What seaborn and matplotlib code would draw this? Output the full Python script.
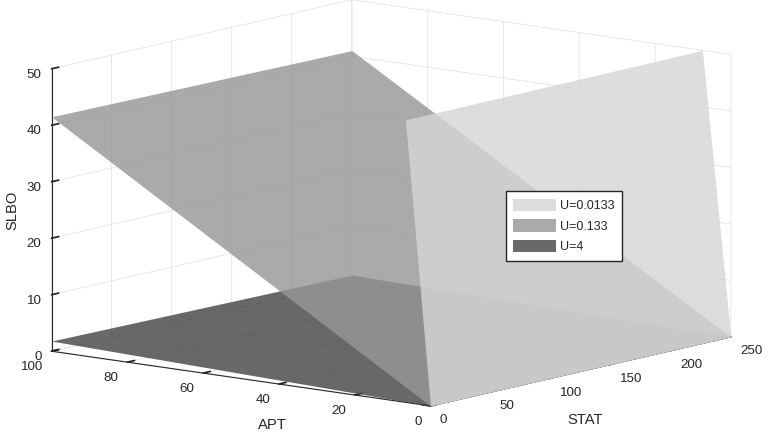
import numpy as np
import matplotlib
matplotlib.use("Agg")
import matplotlib.pyplot as plt
from matplotlib.patches import Patch
import seaborn as sns

# grid corners: APT along rows, STAT along columns
apt = [0, 100]
stat = [0, 250]
slbo_u4 = [[0.0, 0.0], [1.8, 1.25]]
slbo_u0133 = [[0.0, 0.0], [41.5, 41.0]]
# U=0.0133 climbs so steeply it hits the top of the box close to APT=0
apt_u00133 = [[0.0, 0.0], [6.6, 7.5]]
slbo_u00133 = [[0.0, 0.0], [50.0, 50.0]]

labels = ['U=0.0133', 'U=0.133', 'U=4']
grays = ['#d6d6d6', '#979797', '#474747']
face_alpha = 0.82

apt_ticks = [0, 20, 40, 60, 80, 100]
stat_ticks = [0, 50, 100, 150, 200, 250]
slbo_ticks = [0, 10, 20, 30, 40, 50]

sns.set_theme(style='white', rc={'grid.color': '#e4e4e4', 'grid.linewidth': 0.6})
plt.rcParams['font.family'] = ['Liberation Sans', 'DejaVu Sans']

fig = plt.figure(figsize=(7.68, 4.36), dpi=100)
# big square axes so the surfaces are never clipped by the axes box
side = 900
cx, cy = 379, 215
ax = fig.add_axes([(cx - side / 2) / 768, (436 - cy - side / 2) / 436, side / 768, side / 436],
                  projection='3d', computed_zorder=False)

S, A = np.meshgrid(stat, apt)
ax.plot_surface(S, A, np.array(slbo_u4), color=grays[2], alpha=face_alpha,
                shade=False, linewidth=0, antialiased=True, zorder=1)
ax.plot_surface(S, A, np.array(slbo_u0133), color=grays[1], alpha=face_alpha,
                shade=False, linewidth=0, antialiased=True, zorder=2)
ax.plot_surface(S, np.array(apt_u00133), np.array(slbo_u00133), color=grays[0], alpha=face_alpha,
                shade=False, linewidth=0, antialiased=True, zorder=3)

ax.set_proj_type('ortho')
ax.view_init(elev=10.5, azim=-141.6)
ax.set_box_aspect((1, 1, 0.594), zoom=1.44 * 500 / side)
ax.set_xlim(0, 250, view_margin=0)
ax.set_ylim(0, 100, view_margin=0)
ax.set_zlim(0, 50, view_margin=0)
ax.set_xticks(stat_ticks)
ax.set_yticks(apt_ticks)
ax.set_zticks(slbo_ticks)
ax.tick_params(labelsize=9.6, colors='#262626')
ax.tick_params(axis='x', pad=0.3)
ax.tick_params(axis='y', pad=1.8)
ax.tick_params(axis='z', pad=-3)
for t in ax.get_xticklabels():
    t.set_ha('left')
for t in ax.get_yticklabels():
    t.set_ha('right')
for t in ax.get_zticklabels():
    t.set_ha('right')

for axis in (ax.xaxis, ax.yaxis, ax.zaxis):
    axis.set_pane_color((1, 1, 1, 0))
    axis.pane.set_edgecolor('#e4e4e4')
    axis.line.set_color('#262626')
    axis.line.set_linewidth(0.8)
    axis._axinfo['tick']['inward_factor'] = 0.0
    axis._axinfo['tick']['outward_factor'] = 0.3
ax.grid(True)

# axis titles placed where the reference has them
ax.text2D(585 / 768, 1 - 420 / 436, 'STAT', transform=fig.transFigure,
          fontsize=10.6, color='#262626', ha='center', va='center')
ax.text2D(272 / 768, 1 - 425 / 436, 'APT', transform=fig.transFigure,
          fontsize=10.6, color='#262626', ha='center', va='center')
ax.text2D(12 / 768, 1 - 210 / 436, 'SLBO', transform=fig.transFigure,
          fontsize=10.6, color='#262626', ha='center', va='center', rotation=90)

handles = [Patch(facecolor=g, alpha=face_alpha, edgecolor='none') for g in grays]
fig.legend(handles, labels, loc='center', bbox_to_anchor=(0.734, 0.482),
           fontsize=9, frameon=True, fancybox=False, edgecolor='#262626',
           framealpha=1, handlelength=3.4, handleheight=1.2,
           handletextpad=0.35, labelspacing=0.55, borderpad=0.6)

fig.savefig('out.png', dpi=100)
